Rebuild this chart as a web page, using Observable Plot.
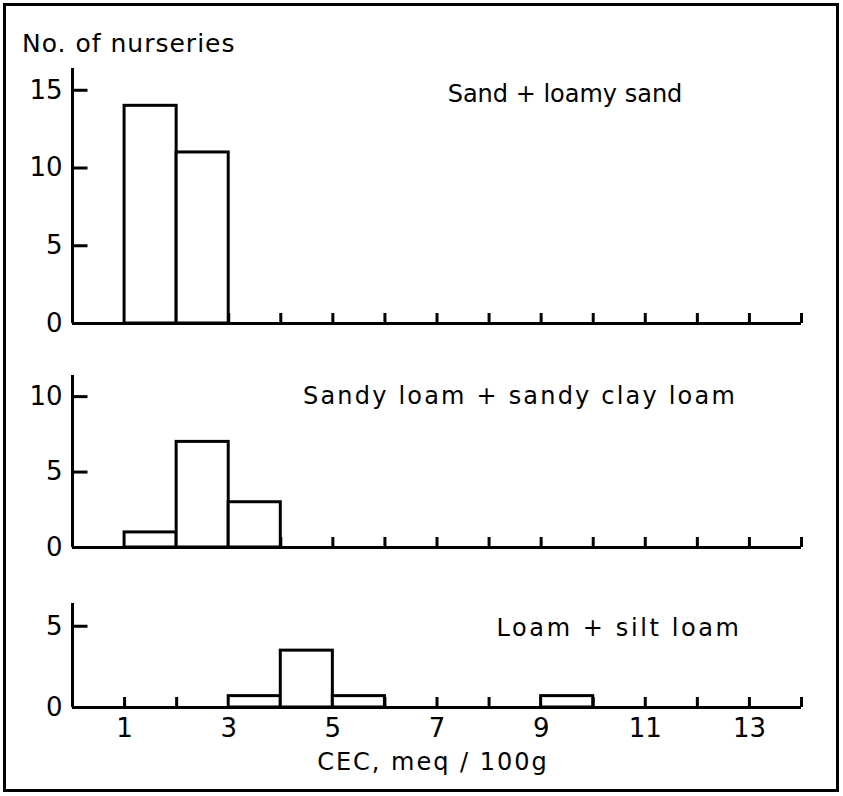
<!DOCTYPE html>
<html><head><meta charset="utf-8">
<script src="https://cdn.jsdelivr.net/npm/d3@7"></script>
<script src="https://cdn.jsdelivr.net/npm/@observablehq/plot@0.6"></script>
<style>
body{margin:0;background:#fff;}
#wrap{position:relative;width:843px;height:796px;overflow:hidden;font-family:"DejaVu Sans",sans-serif;color:#000;background:#fff;}
#border{position:absolute;left:3px;top:3px;width:830px;height:783px;border:3px solid #000;}
.p{position:absolute;left:0;}
#ylab{position:absolute;left:22px;top:31px;font-size:25px;line-height:25px;white-space:nowrap;letter-spacing:1px;}
#xlab{position:absolute;left:233px;width:400px;top:750px;font-size:24px;line-height:24px;text-align:center;letter-spacing:2px;white-space:nowrap;}
</style>
</head><body>
<div id="wrap">
  <div id="border"></div>
  <div id="ylab">No. of nurseries</div>
  <div id="p1" class="p"></div>
  <div id="p2" class="p"></div>
  <div id="p3" class="p"></div>
  <div id="xlab">CEC, meq / 100g</div>
</div>
<script>
// ---- data ----
const panelTitles = ["Sand + loamy sand", "Sandy loam + sandy clay loam", "Loam + silt loam"];
const binWidth = 1;
const sandBins = [1, 2];
const sandCounts = [14, 11];
const sandyLoamBins = [1, 2, 3];
const sandyLoamCounts = [1, 7, 3];
const loamBins = [3, 4, 5, 9];
const loamCounts = [0.7, 3.5, 0.7, 0.7];
const xTicks = [1, 2, 3, 4, 5, 6, 7, 8, 9, 10, 11, 12, 13, 14];
const xTickLabels = [1, 3, 5, 7, 9, 11, 13];
const xDomain = [0, 14];
const yTicks1 = [5, 10, 15];
const yTicks2 = [5, 10];
const yTicks3 = [5];
const yLabels1 = [0, 5, 10, 15];
const yLabels2 = [0, 5, 10];
const yLabels3 = [0, 5];
const yTop = [16.4, 11.4, 6.4];

// ---- layout ----
const W = 843, ML = 72, MR = 42;
const SW = 3;

function panel(el, {bins, counts, title, yTicks, yLabels, yMax, top, height, mTop, mBottom, tdx, tdy, ls, showX}) {
  const data = bins.map((b, i) => ({x1: b, x2: b + binWidth, y: counts[i]}));
  const frameH = height - mTop - mBottom;
  const frameW = W - ML - MR;
  const xTickLen = 10 * yMax / frameH;                       // 10px upward ticks
  const yTickLen = 15 * (xDomain[1] - xDomain[0]) / frameW;  // 15px inward ticks
  const marks = [
    Plot.ruleX(xTicks, {x: d => d, y1: 0, y2: xTickLen, strokeWidth: SW}),
    Plot.link(yTicks, {x1: 0, x2: yTickLen, y1: d => d, y2: d => d, stroke: "black", strokeWidth: SW}),
    Plot.rectY(data, {x1: "x1", x2: "x2", y: "y", fill: "white", stroke: "black", strokeWidth: SW}),
    Plot.ruleY([0], {strokeWidth: SW}),
    Plot.ruleX([0], {strokeWidth: SW}),
    Plot.axisY(yLabels, {tickSize: 0, tickPadding: 10, fontSize: 26, label: null}),
    Plot.text([title], {frameAnchor: "top", dx: tdx, dy: tdy, fontSize: 24, textAnchor: "middle", lineAnchor: "middle"})
  ];
  if (showX) marks.push(Plot.axisX(xTickLabels, {tickSize: 0, tickPadding: 11, fontSize: 26, label: null}));
  const chart = Plot.plot({
    width: W, height,
    marginLeft: ML, marginRight: MR, marginTop: mTop, marginBottom: mBottom,
    x: {domain: xDomain, axis: showX ? undefined : null},
    y: {domain: [0, yMax]},
    style: {fontFamily: "DejaVu Sans, sans-serif", fontSize: "24px", color: "black", background: "transparent", overflow: "visible"},
    marks
  });
  d3.select(chart).selectAll("g[aria-label='text'] text").style("letter-spacing", ls + "px");
  el.style.top = top + "px";
  el.appendChild(chart);
}

panel(document.getElementById("p1"), {bins: sandBins, counts: sandCounts, title: panelTitles[0], yTicks: yTicks1, yLabels: yLabels1, yMax: yTop[0],
  top: 0, height: 340, mTop: 68, mBottom: 17, tdx: 128, tdy: 26, ls: 0, showX: false});
panel(document.getElementById("p2"), {bins: sandyLoamBins, counts: sandyLoamCounts, title: panelTitles[1], yTicks: yTicks2, yLabels: yLabels2, yMax: yTop[1],
  top: 340, height: 230, mTop: 35, mBottom: 23, tdx: 83, tdy: 21, ls: 2.2, showX: false});
panel(document.getElementById("p3"), {bins: loamBins, counts: loamCounts, title: panelTitles[2], yTicks: yTicks3, yLabels: yLabels3, yMax: yTop[2],
  top: 570, height: 226, mTop: 33, mBottom: 89, tdx: 182, tdy: 25, ls: 2.6, showX: true});
</script>
</body></html>
